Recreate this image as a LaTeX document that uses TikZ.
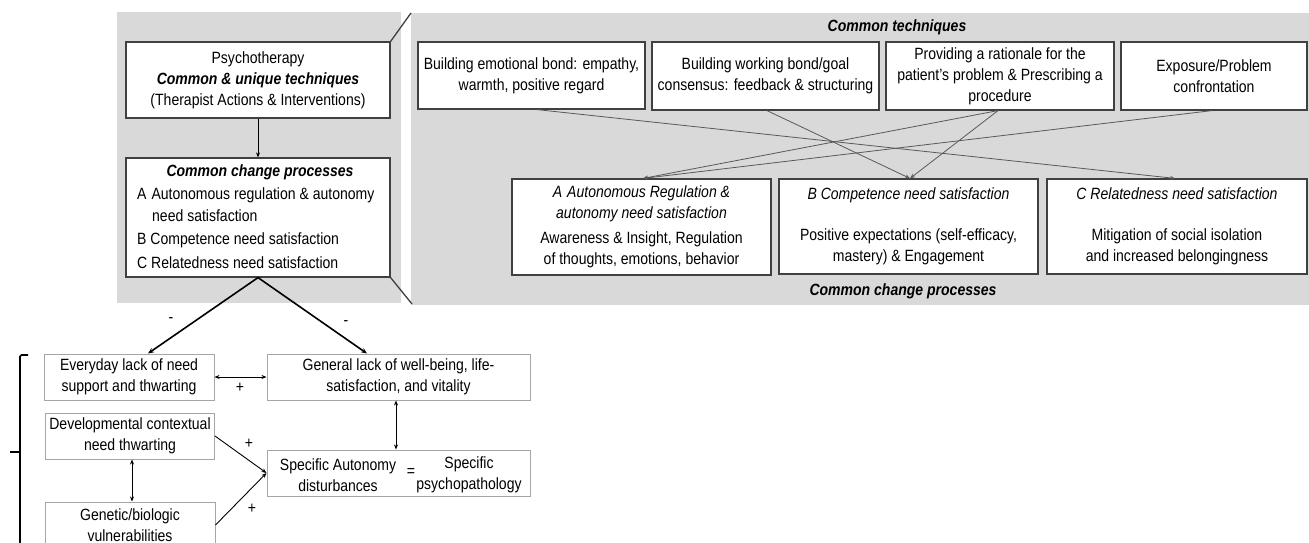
\documentclass[tikz,border=0pt]{standalone}
\usepackage{fontspec}
\setmainfont[FakeStretch=0.86]{Liberation Sans}
\usetikzlibrary{arrows.meta}
\definecolor{panel}{HTML}{D9D9D9}
\definecolor{dark}{HTML}{404040}
\definecolor{light}{HTML}{A6A6A6}
\definecolor{conn}{HTML}{595959}
\newcommand\dfs{\fontsize{16.3}{21}\selectfont}
\tikzset{
  ubox/.style={draw=dark, line width=1.2pt, fill=white, inner sep=0pt, align=center, font=\dfs},
  lbox/.style={draw=light, line width=1pt, fill=white, inner sep=0pt, align=center, font=\dfs},
  txt/.style={inner sep=0pt, font=\dfs, align=center},
  bitxt/.style={inner sep=0pt, font=\dfs\bfseries\itshape, align=center},
  connline/.style={draw=conn, line width=0.8pt, -{Stealth[length=5pt,width=4pt]}},
  thickarrow/.style={draw=black, line width=1.6pt, -{Stealth[length=6pt,width=5pt]}},
  arr/.style={draw=black, line width=0.9pt, -{Stealth[length=5pt,width=4pt]}},
  darr/.style={draw=black, line width=0.9pt, {Stealth[length=5pt,width=4pt]}-{Stealth[length=5pt,width=4pt]}},
  zoomline/.style={draw=dark, line width=1.3pt},
}
\begin{document}
\begin{tikzpicture}[x=1pt,y=-1pt]
\useasboundingbox (0,0) rectangle (1309,543);
\clip (0,0) rectangle (1309,543);
% panels
\fill[panel] (117,12) rectangle (401,303);
\fill[panel] (411,13) rectangle (1309,305);

% left panel
\node[ubox, minimum width=264pt, minimum height=76pt] (psy) at (258,80)
  {Psychotherapy\\{\bfseries\itshape Common \& unique techniques}\\(Therapist Actions \& Interventions)};
\node[ubox, minimum width=264pt, minimum height=119pt] (ccp) at (258,217.5) {};
\node[bitxt] (ccpt) at (260,172) {Common change processes};
\node[txt, anchor=west] (ccpa) at (137,195) {A\hspace{5pt}Autonomous regulation \& autonomy};
\node[txt, anchor=west] (ccpa2) at (152,216) {need satisfaction};
\node[txt, anchor=west] (ccpb) at (137,240) {B Competence need satisfaction};
\node[txt, anchor=west] (ccpc) at (137,263) {C Relatedness need satisfaction};
\draw[arr] (psy) -- (ccp);

% zoom lines
\coordinate (ztop) at (411,13);
\coordinate (zbot) at (412,304);
\draw[zoomline] (psy.north east) -- (ztop);
\draw[zoomline] (ccp.south east) -- (zbot);

% right panel
\node[bitxt] (ctl) at (897,27) {Common techniques};
\node[ubox, minimum width=227pt, minimum height=67pt] (t1) at (531.5,75.5)
  {Building emotional bond: empathy,\\warmth, positive regard};
\node[ubox, minimum width=227pt, minimum height=68pt] (t2) at (765.5,76)
  {Building working bond/goal\\consensus: feedback \& structuring};
\node[ubox, minimum width=228pt, minimum height=68pt] (t3) at (1000,76)
  {Providing a rationale for the\\patient’s problem \& Prescribing a\\procedure};
\node[ubox, minimum width=186pt, minimum height=68pt] (t4) at (1214,76)
  {Exposure/Problem\\confrontation};

\node[ubox, minimum width=259pt, minimum height=96pt] (pa) at (641.5,227)
  {{\itshape A\hspace{5pt}Autonomous Regulation \&}\\{\itshape autonomy need satisfaction}\\[4pt]Awareness \& Insight, Regulation\\of thoughts, emotions, behavior};
\node[ubox, minimum width=259pt, minimum height=95pt] (pb) at (908.5,226.5)
  {{\itshape B Competence need satisfaction}\\[20pt]Positive expectations (self-efficacy,\\mastery) \& Engagement};
\node[ubox, minimum width=260pt, minimum height=95pt] (pc) at (1177,226.5)
  {{\itshape C Relatedness need satisfaction}\\[20pt]Mitigation of social isolation\\and increased belongingness};
\node[bitxt] (cpl) at (903,291) {Common change processes};

\draw[connline] ([xshift=5.5pt]t1.south) -- ([xshift=-2pt]pc.north);
\draw[connline] ([xshift=1.5pt]t2.south) -- ([xshift=1.5pt]pb.north);
\draw[connline] ([xshift=-2pt]t3.south) -- ([xshift=1.5pt]pb.north);
\draw[connline] ([xshift=-2pt]t3.south) -- ([xshift=1.5pt]pa.north);
\draw[connline] ([xshift=-2pt]t4.south) -- ([xshift=1.5pt]pa.north);

% lower part
\node[lbox, minimum width=170pt, minimum height=46pt] (ev) at (129,377)
  {Everyday lack of need\\support and thwarting};
\node[lbox, minimum width=263pt, minimum height=46pt] (gl) at (398.5,377)
  {General lack of well-being, life-\\satisfaction, and vitality};
\node[lbox, minimum width=169pt, minimum height=46pt] (dv) at (130,436)
  {Developmental contextual\\need thwarting};
\node[lbox, minimum width=170pt, minimum height=46pt] (gn) at (130,525)
  {Genetic/biologic\\vulnerabilities};
\node[lbox, minimum width=263pt, minimum height=46pt] (sp) at (398.5,473) {};
\node[txt] (spa) at (338,475) {Specific Autonomy\\disturbances};
\node[txt] (speq) at (411,473) {=};
\node[txt] (spb) at (469,475) {Specific\\psychopathology};

\draw[thickarrow] (ccp.south) -- ([xshift=19pt]ev.north);
\draw[thickarrow] (ccp.south) -- ([xshift=-31.5pt]gl.north);
\node[txt] (m1) at (171,320) {-};
\node[txt] (m2) at (346,323) {-};

\draw[darr] (ev.east) -- (gl.west);
\node[txt] (p1) at (240,388) {+};
\draw[darr] ([xshift=2pt]dv.south) -- ([xshift=2pt]gn.north);
\draw[darr] ([xshift=-2.5pt]gl.south) -- ([xshift=-2.5pt]sp.north);
\draw[arr] (dv.east) -- (sp.west);
\draw[arr] (gn.east) -- (sp.west);
\node[txt] (p2) at (249,444) {+};
\node[txt] (p3) at (252,509) {+};

% brace
\draw[line width=1.6pt, rounded corners=1.5pt] (28,355) -- (20,355) -- (20,560);
\draw[line width=1.6pt] (10,452) -- (20,452);
\end{tikzpicture}
\end{document}
